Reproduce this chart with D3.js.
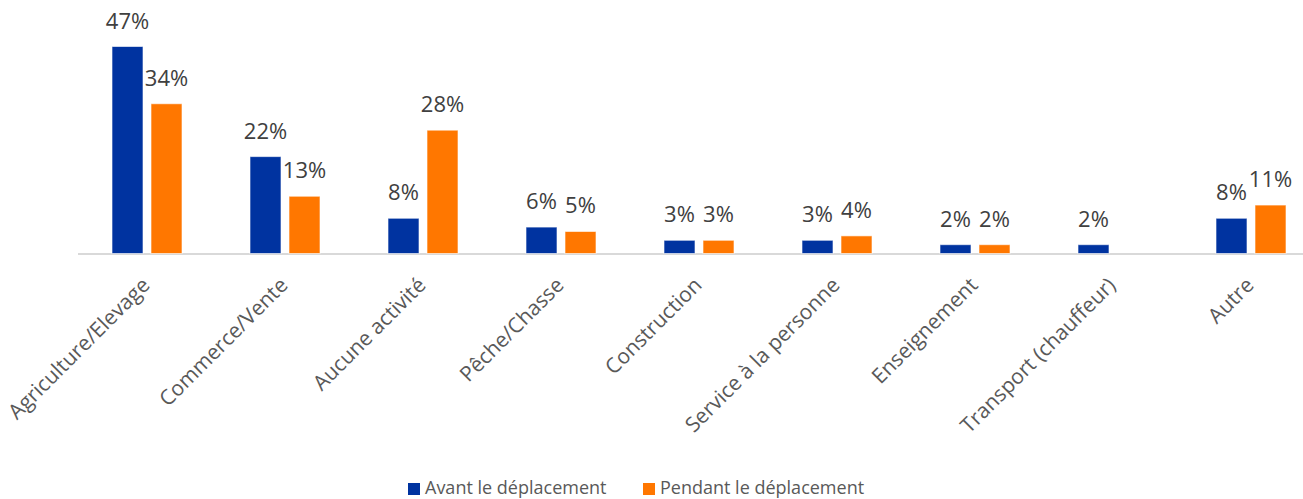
<!DOCTYPE html>
<html>
<head>
<meta charset="utf-8">
<script src="https://cdn.jsdelivr.net/npm/d3@7"></script>
<style>
  html, body { margin: 0; padding: 0; background: #fff; }
  svg { display: block; font-family: "Open Sans", sans-serif; }
</style>
</head>
<body>
<svg id="chart" width="1303" height="499"></svg>
<script>
const categories = ["Agriculture/Elevage", "Commerce/Vente", "Aucune activité", "Pêche/Chasse", "Construction", "Service à la personne", "Enseignement", "Transport (chauffeur)", "Autre"];
const seriesNames = ["Avant le déplacement", "Pendant le déplacement"];
const avant = [47, 22, 8, 6, 3, 3, 2, 2, 8];
const pendant = [34, 13, 28, 5, 3, 4, 2, null, 11];
const colors = ["#0033A0", "#FF7700"];

const svg = d3.select("#chart");
const baseY = 253.5;

const x0 = d3.scaleBand().domain(categories).range([78, 1320]).padding(0);
const x1 = d3.scaleBand().domain(seriesNames).range([34, 104]).paddingInner(8 / 39).paddingOuter(0);
const y = d3.scaleLinear().domain([0, 47]).range([baseY, 46.5]);

const rows = categories.map((c, i) => ({ cat: c, vals: [avant[i], pendant[i]] }));

// axis line
svg.append("line")
  .attr("x1", 78).attr("x2", 1303)
  .attr("y1", baseY + 0.5).attr("y2", baseY + 0.5)
  .attr("stroke", "#d9d9d9").attr("stroke-width", 2);

const g = svg.append("g").selectAll("g").data(rows).join("g")
  .attr("transform", d => `translate(${x0(d.cat)},0)`);

g.selectAll("rect")
  .data(d => d.vals.map((v, j) => ({ v, s: seriesNames[j], j })).filter(e => e.v != null))
  .join("rect")
  .attr("x", e => x1(e.s))
  .attr("width", x1.bandwidth())
  .attr("y", e => y(e.v))
  .attr("height", e => baseY - y(e.v))
  .attr("fill", e => colors[e.j])
  .attr("stroke", "#ffffff")
  .attr("stroke-opacity", 0.6)
  .attr("stroke-width", 1);

g.selectAll("text.val")
  .data(d => d.vals.map((v, j) => ({ v, s: seriesNames[j], j })).filter(e => e.v != null))
  .join("text")
  .attr("class", "val")
  .attr("x", e => x1(e.s) + x1.bandwidth() / 2)
  .attr("y", e => y(e.v) - 18)
  .attr("text-anchor", "middle")
  .attr("font-size", 22)
  .attr("fill", "#404040")
  .text(e => e.v + "%");

// category labels
const xAxis = d3.axisBottom(x0).tickSize(0).tickPadding(0);
const ax = svg.append("g").attr("transform", `translate(0,${baseY})`).call(xAxis);
ax.select(".domain").remove();
ax.selectAll(".tick text")
  .attr("font-family", "Open Sans, sans-serif")
  .attr("font-size", 21)
  .attr("fill", "#595959")
  .attr("text-anchor", "end")
  .attr("dy", 0)
  .attr("transform", "translate(4,33) rotate(-45)");

// legend
const legend = svg.append("g");
const legendX = [408, 643];
seriesNames.forEach((s, j) => {
  legend.append("rect")
    .attr("x", legendX[j]).attr("y", 483)
    .attr("width", 12).attr("height", 12)
    .attr("fill", colors[j]);
  legend.append("text")
    .attr("x", legendX[j] + 17).attr("y", 494)
    .attr("font-size", 18)
    .attr("fill", "#595959")
    .text(s);
});
</script>
</body>
</html>
